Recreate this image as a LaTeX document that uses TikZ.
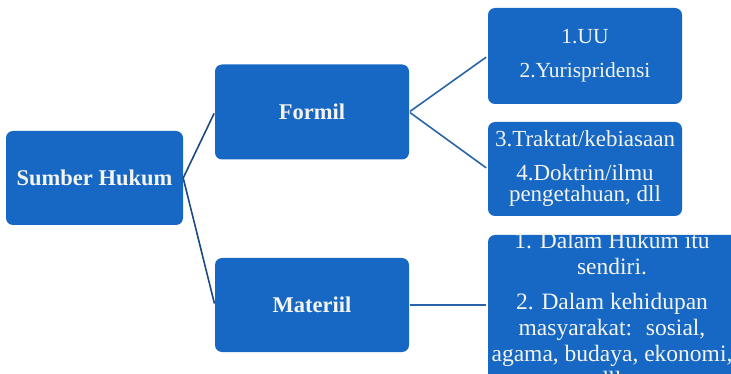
\documentclass[tikz,border=0pt]{standalone}
\usepackage{fontspec}
\setmainfont{Liberation Serif}
\definecolor{boxblue}{HTML}{1668C4}
\definecolor{boxtext}{HTML}{F4F4EC}
\definecolor{navyline}{HTML}{1F4A80}
\definecolor{midline}{HTML}{2A64A8}
\begin{document}
\begin{tikzpicture}[x=1pt,y=-1pt,
  box/.style={fill=boxblue, rounded corners=7pt, text=boxtext, inner sep=0pt, align=center},
  head/.style={font=\bfseries\fontsize{22.5}{24}\selectfont},
  leftline/.style={draw=navyline, line width=1.6pt, shorten >=1.5pt},
  rightline/.style={draw=midline, line width=1.6pt, shorten >=2pt, shorten <=1pt}]
\useasboundingbox (0,0) rectangle (731,374);
\clip (0,0) rectangle (731,374);
\node[box, head, minimum width=177pt, minimum height=94pt] (sh) at (94.5,178) {Sumber Hukum};
\node[box, head, minimum width=194pt, minimum height=95pt] (fm) at (312,112) {Formil};
\node[box, head, minimum width=194pt, minimum height=94pt] (mt) at (312,305) {Materiil};
\node[box, minimum width=194pt, minimum height=96pt, font=\fontsize{21.5}{34}\selectfont] (b1) at (585,56) {1.UU\\2.Yurispridensi};
\node[box, minimum width=194pt, minimum height=94pt, font=\fontsize{23}{21}\selectfont] (b2) at (585,169) {3.Traktat/kebiasaan\\[13pt]4.Doktrin/ilmu\\pengetahuan, dll};
\node[box, minimum width=257pt, minimum height=155pt] (b3) at (616.5,312.5) {};
\node[text=boxtext, inner sep=0pt, align=center, font=\fontsize{23.5}{26}\selectfont] (t3) at (612,310) {1. Dalam Hukum itu\\sendiri.\\[9pt]2. Dalam kehidupan\\masyarakat:~ sosial,\\agama, budaya, ekonomi,\\dll.};
\draw[leftline] (sh.east) -- (fm.west);
\draw[leftline] (sh.east) -- (mt.west);
\draw[rightline] (fm.east) -- (b1.west);
\draw[rightline] (fm.east) -- (b2.west);
\draw[rightline] (mt.east) -- (b3.west |- mt.east);
\end{tikzpicture}
\end{document}
